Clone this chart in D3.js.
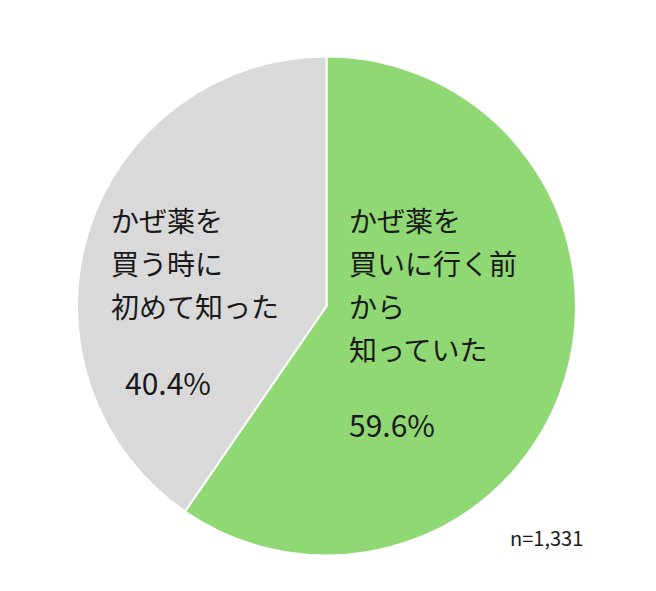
<!DOCTYPE html><html><head><meta charset="utf-8"><script src="https://cdn.jsdelivr.net/npm/d3@7"></script>
<style>body{margin:0;background:#fff}text{font-family:"Noto Sans CJK JP",sans-serif;fill:#1a1a1a}</style></head><body>
<svg id="c" width="656" height="591"></svg>
<script>
const categories=["かぜ薬を買いに行く前から知っていた","かぜ薬を買う時に初めて知った"];
const values=[59.6,40.4];
const colors=["#8fd874","#d9d9d9"];
const labelLines=[["かぜ薬を","買いに行く前","から","知っていた"],["かぜ薬を","買う時に","初めて知った"]];
const pctLabels=["59.6%","40.4%"];
const svg=d3.select("#c");
const cx=326.5,cy=306,r=249.5;
const g=svg.append("g").attr("transform",`translate(${cx},${cy})`);
const pie=d3.pie().sort(null).value(d=>d)(values);
const arc=d3.arc().innerRadius(0).outerRadius(r);
g.selectAll("path").data(pie).join("path").attr("d",arc).attr("fill",(d,i)=>colors[i]).attr("stroke","#fff").attr("stroke-width",2);
const pos=[{x:349,y:232,py:437,px:349},{x:111,y:232,py:395,px:125}];
labelLines.forEach((ls,i)=>{
  ls.forEach((l,j)=>svg.append("text").attr("x",pos[i].x).attr("y",pos[i].y+j*43).attr("font-size",28).text(l));
  svg.append("text").attr("x",pos[i].px).attr("y",pos[i].py).attr("font-size",30).text(pctLabels[i]);
});
svg.append("text").attr("x",510).attr("y",546).attr("font-size",20).text("n=1,331");
</script></body></html>
